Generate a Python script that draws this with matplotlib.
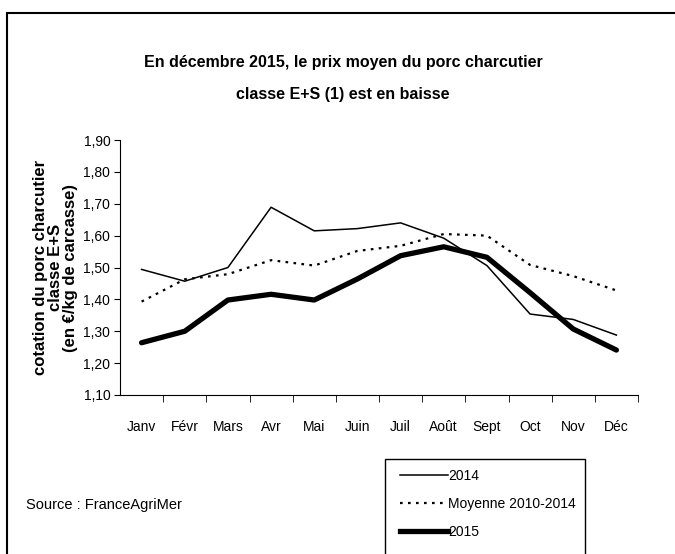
import matplotlib.pyplot as plt
from matplotlib.patches import Rectangle
from matplotlib.lines import Line2D

plt.rcParams['font.family'] = ['Liberation Sans Narrow', 'Liberation Sans', 'DejaVu Sans']

mois = ["Janv", "Févr", "Mars", "Avr", "Mai", "Juin", "Juil", "Août", "Sept", "Oct", "Nov", "Déc"]
prix_2014 = [1.494, 1.457, 1.500, 1.689, 1.615, 1.622, 1.640, 1.592, 1.506, 1.354, 1.337, 1.288]
moyenne_2010_2014 = [1.393, 1.463, 1.479, 1.523, 1.506, 1.552, 1.568, 1.605, 1.600, 1.508, 1.473, 1.428]
prix_2015 = [1.264, 1.300, 1.398, 1.416, 1.398, 1.464, 1.537, 1.565, 1.532, 1.421, 1.307, 1.241]
y_ticks = [1.10, 1.20, 1.30, 1.40, 1.50, 1.60, 1.70, 1.80, 1.90]

W, H = 675, 554
fig = plt.figure(figsize=(W / 100, H / 100), dpi=100)

# outer frame (cropped on the right and bottom)
fig.patches.append(Rectangle((7 / W, -0.05), 1.1, 1 - 13 / H + 0.05, transform=fig.transFigure,
                             fill=False, edgecolor='black', linewidth=1.5))

ax = fig.add_axes([120 / W, 1 - 395 / H, 518 / W, 255 / H])
x = list(range(len(mois)))
ax.plot(x, prix_2014, color='black', linewidth=1.1, label="2014")
ax.plot(x, moyenne_2010_2014, color='black', linewidth=1.6, linestyle=(0, (1.2, 2.4)),
        label="Moyenne 2010-2014")
ax.plot(x, prix_2015, color='black', linewidth=3.8, solid_capstyle='round', label="2015")

ax.set_xlim(-0.5, len(mois) - 0.5)
ax.set_ylim(1.10, 1.90)
ax.set_yticks(y_ticks)
ax.set_yticklabels([f"{v:.2f}".replace(".", ",") for v in y_ticks], fontsize=10)
ax.set_xticks(x)
ax.set_xticklabels(mois, fontsize=10)
ax.tick_params(axis='x', which='major', length=0, pad=18)
ax.set_xticks([i + 0.5 for i in x], minor=True)
ax.tick_params(axis='x', which='minor', length=5, direction='out')
ax.tick_params(axis='y', length=4, direction='out', pad=3)
for s in ['top', 'right']:
    ax.spines[s].set_visible(False)
ax.spines['left'].set_linewidth(0.8)
ax.spines['bottom'].set_linewidth(0.8)

ax.set_ylabel("cotation du porc charcutier\nclasse E+S\n(en €/kg de carcasse)",
              fontsize=12, fontweight='bold', family=['Liberation Sans', 'DejaVu Sans'],
              linespacing=1.0, labelpad=4)

fig.text(343 / W, 1 - 62 / H, "En décembre 2015, le prix moyen du porc charcutier",
         ha='center', va='center', fontsize=11.5, fontweight='bold')
fig.text(343 / W, 1 - 95 / H, "classe E+S (1) est en baisse",
         ha='center', va='center', fontsize=11.5, fontweight='bold')

fig.text(26 / W, 1 - 505 / H, "Source : FranceAgriMer", ha='left', va='center', fontsize=10.5)

# legend box
fig.patches.append(Rectangle((385 / W, -0.05), 200 / W, 1 - 459 / H + 0.05, transform=fig.transFigure,
                             fill=False, edgecolor='black', linewidth=1.0))
handles = [Line2D([0], [0], color='black', linewidth=1.1),
           Line2D([0], [0], color='black', linewidth=1.6, linestyle=(0, (1.2, 2.4))),
           Line2D([0], [0], color='black', linewidth=3.8)]
fig.legend(handles, ["2014", "Moyenne 2010-2014", "2015"], loc='upper left',
           bbox_to_anchor=(392 / W, 1 - 461 / H), frameon=False, fontsize=10,
           handlelength=3.4, handletextpad=0.05, labelspacing=1.0, borderpad=0.1)

fig.savefig("out.png", dpi=100)
